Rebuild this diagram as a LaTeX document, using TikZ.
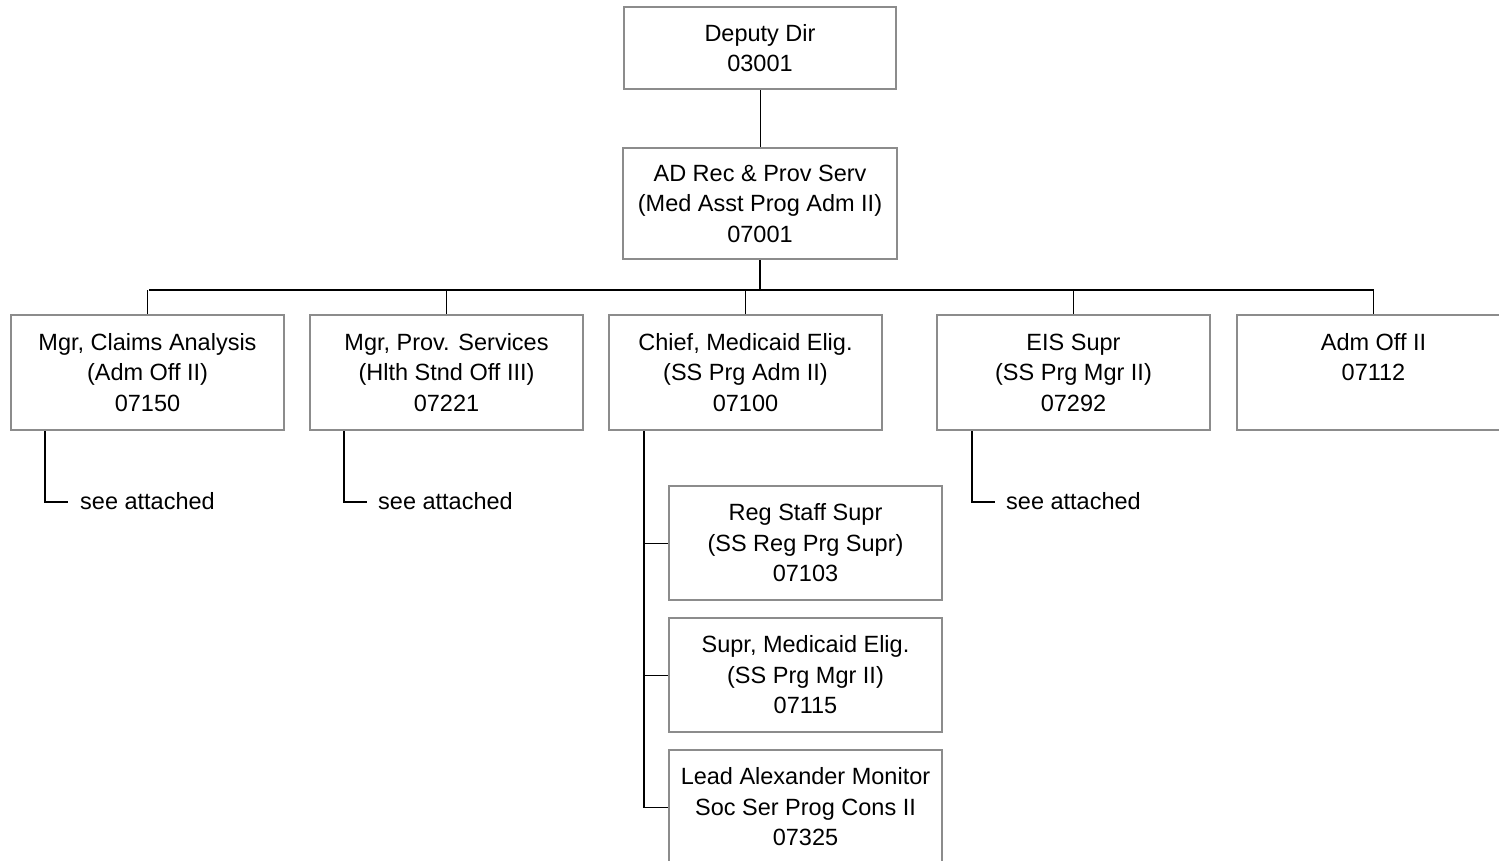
\documentclass[tikz,border=0pt]{standalone}
\usepackage{fontspec}
\setmainfont{Liberation Sans}
\begin{document}
\begin{tikzpicture}[x=1pt,y=-1pt,
  box/.style={draw=boxgray,line width=2pt,rectangle,inner sep=0pt,minimum width=273pt,minimum height=115pt,align=center,font=\fontsize{23.5}{30.5}\selectfont},
  thick line/.style={line width=2pt,black},
  thin line/.style={line width=1pt,black},
  note/.style={anchor=west,inner sep=0pt,font=\fontsize{23.5}{30.5}\selectfont}]
\definecolor{boxgray}{RGB}{140,140,140}
\useasboundingbox (0,0) rectangle (1499,860);
% boxes
\node[box,minimum width=272pt,minimum height=82pt] (dep) at (760,48) {Deputy Dir\\03001};
\node[box,minimum width=274pt,minimum height=111pt] (ad) at (760,203.5) {AD Rec \& Prov Serv\\(Med Asst Prog Adm II)\\07001};
\node[box] (b1) at (147.5,372.5) {Mgr, Claims Analysis\\(Adm Off II)\\07150};
\node[box] (b2) at (446.5,372.5) {Mgr, Prov. Services\\(Hlth Stnd Off III)\\07221};
\node[box] (b3) at (745.5,372.5) {Chief, Medicaid Elig.\\(SS Prg Adm II)\\07100};
\node[box] (b4) at (1073.5,372.5) {EIS Supr\\(SS Prg Mgr II)\\07292};
\node[box] (b5) at (1373.5,372.5) {Adm Off II\\07112\\\phantom{0}};
\node[box,minimum height=114pt] (s1) at (805.5,543) {Reg Staff Supr\\(SS Reg Prg Supr)\\07103};
\node[box,minimum height=114pt] (s2) at (805.5,675) {Supr, Medicaid Elig.\\(SS Prg Mgr II)\\07115};
\node[box,minimum height=114pt] (s3) at (805.5,807) {Lead Alexander Monitor\\Soc Ser Prog Cons II\\07325};
% coordinates
\coordinate (bus) at (760,290);
\coordinate (busL) at (149,290);
\coordinate (busR) at (1374,290);
% top connectors
\draw[thin line] (dep.south) -- (ad.north);
\draw[thick line] (ad.south) -- (bus);
\draw[thick line] (busL) -- (busR);
\draw[thin line] (b1.north) -- (b1.north |- bus);
\draw[thin line] (b2.north) -- (b2.north |- bus);
\draw[thin line] (b3.north) -- (b3.north |- bus);
\draw[thin line] (b4.north) -- (b4.north |- bus);
\draw[thin line] (b5.north) -- (b5.north |- bus);
% see attached
\coordinate (c1) at (45,502);
\coordinate (c2) at (344,502);
\coordinate (c4) at (972,502);
\node[note] (n1) at (80,501) {see attached};
\node[note] (n2) at (378,501) {see attached};
\node[note] (n4) at (1006,501) {see attached};
\draw[thick line] (c1 |- b1.south) -- (c1) -- ++(23,0);
\draw[thick line] (c2 |- b2.south) -- (c2) -- ++(23,0);
\draw[thick line] (c4 |- b4.south) -- (c4) -- ++(23,0);
% chief spine
\coordinate (sp) at (644,808);
\draw[thick line] (sp |- b3.south) -- (sp);
\draw[thin line] (sp |- s1.west) -- (s1.west);
\draw[thin line] (sp |- s2.west) -- (s2.west);
\draw[thin line] (sp |- s3.west) -- (s3.west);
\end{tikzpicture}
\end{document}
